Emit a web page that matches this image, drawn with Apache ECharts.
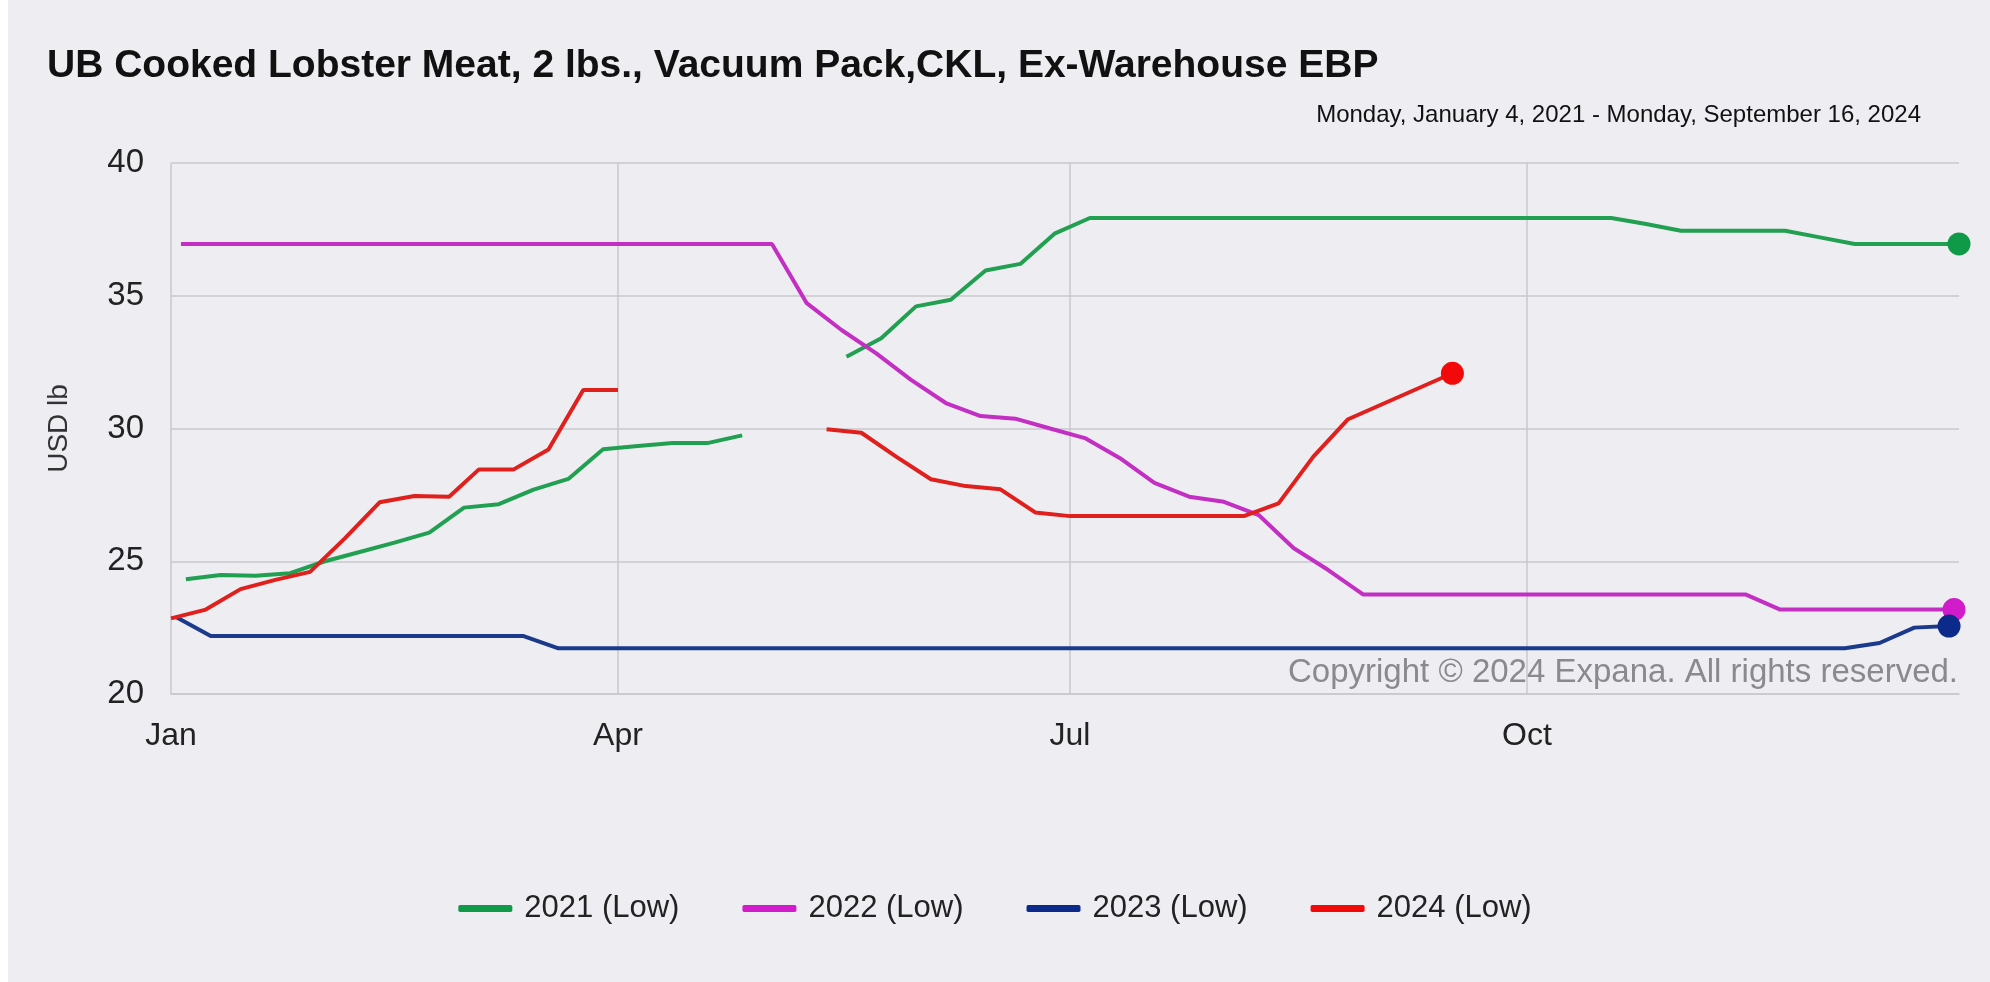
<!DOCTYPE html>
<html>
<head>
<meta charset="utf-8">
<title>UB Cooked Lobster Meat</title>
<script src="https://cdn.jsdelivr.net/npm/echarts@6/dist/echarts.min.js"></script>
<style>
  html, body { margin: 0; padding: 0; }
  body { background: linear-gradient(to right, #ffffff 0 8px, #eeeef2 8px); }
  #chart { width: 1990px; height: 982px; }
</style>
</head>
<body>
<div id="chart"></div>
<script>
// weekly lows, plotted on a shared Jan-Dec axis (month-day)
const dates2021 = ["01-04", "01-11", "01-18", "01-25", "02-01", "02-08", "02-15", "02-22", "03-01", "03-08", "03-15", "03-22", "03-29", "04-05", "04-12", "04-19", "04-26", "05-03", "05-17", "05-24", "05-31", "06-07", "06-14", "06-21", "06-28", "07-05", "10-18", "10-25", "11-01", "11-22", "11-29", "12-06", "12-27"];
const values2021 = [24.32, 24.48, 24.45, 24.55, 25.0, 25.35, 25.7, 26.08, 27.02, 27.15, 27.7, 28.1, 29.22, 29.34, 29.45, 29.45, 29.74, "-", 32.7, 33.4, 34.6, 34.85, 35.95, 36.2, 37.35, 37.93, 37.93, 37.7, 37.45, 37.45, 37.2, 36.95, 36.95];

const dates2022 = ["01-03", "05-02", "05-09", "05-16", "05-23", "05-30", "06-06", "06-13", "06-20", "06-27", "07-04", "07-11", "07-18", "07-25", "08-01", "08-08", "08-15", "08-22", "08-29", "11-14", "11-21", "12-26"];
const values2022 = [36.95, 36.95, 34.72, 33.71, 32.83, 31.83, 30.96, 30.47, 30.37, 30.0, 29.64, 28.89, 27.95, 27.43, 27.24, 26.74, 25.5, 24.67, 23.75, 23.75, 23.18, 23.18];

const dates2023 = ["01-02", "01-09", "03-13", "03-20", "12-04", "12-11", "12-18", "12-25"];
const values2023 = [22.9, 22.18, 22.18, 21.72, 21.72, 21.92, 22.5, 22.56];

const dates2024 = ["01-01", "01-08", "01-15", "01-22", "01-29", "02-05", "02-12", "02-19", "02-26", "03-04", "03-11", "03-18", "03-25", "04-01", "04-08", "05-13", "05-20", "05-27", "06-03", "06-10", "06-17", "06-24", "07-01", "08-05", "08-12", "08-19", "08-26", "09-16"];
const values2024 = [22.85, 23.18, 23.95, 24.3, 24.6, 25.86, 27.22, 27.46, 27.43, 28.46, 28.46, 29.21, 31.45, 31.45, "-", 29.97, 29.84, 28.94, 28.09, 27.83, 27.71, 26.84, 26.7, 26.7, 27.18, 28.94, 30.35, 32.08];

const seriesNames = ["2021 (Low)", "2022 (Low)", "2023 (Low)", "2024 (Low)"];
const lineColors = ["#22a052", "#c22fc2", "#1b3a8c", "#e0201c"];
const dotColors = ["#0e9a46", "#d21bca", "#0c2a8a", "#f20a0a"];

const quarterStarts = ["01-01", "04-01", "07-01", "10-01"];
const quarterLabels = ["Jan", "Apr", "Jul", "Oct"];

const titleText = "UB Cooked Lobster Meat, 2 lbs., Vacuum Pack,CKL, Ex-Warehouse EBP";
const subText = "Monday, January 4, 2021 - Monday, September 16, 2024";
const copyText = "Copyright \u00a9 2024 Expana. All rights reserved.";

// day categories Jan 1 .. Dec 27
const days = [];
for (let d = 0; d <= 360; d++) {
  const dt = new Date(Date.UTC(2021, 0, 1 + d));
  const mm = String(dt.getUTCMonth() + 1).padStart(2, "0");
  const dd = String(dt.getUTCDate()).padStart(2, "0");
  days.push(mm + "-" + dd);
}

const font = "'Liberation Sans', Arial, sans-serif";
const isQuarter = (index, value) => quarterStarts.indexOf(value) >= 0;

const makeSeries = (name, dates, values, i) => {
  const last = dates.length - 1;
  return {
    name,
    type: "line",
    data: dates.map((d, k) => [d, values[k]]),
    showSymbol: true,
    showAllSymbol: true,
    symbol: "circle",
    symbolSize: function (value, params) {
      return params.dataIndex === last ? 23 : 0;
    },
    lineStyle: { color: lineColors[i], width: 4 },
    itemStyle: { color: dotColors[i] },
    color: lineColors[i],
    z: 2 + i,
    silent: true,
  };
};

const chart = echarts.init(document.querySelector("#chart"));
chart.setOption({
  animation: false,
  textStyle: { fontFamily: font },
  title: [
    {
      text: titleText,
      left: 42,
      top: 42,
      textStyle: { fontFamily: font, fontSize: 39, fontWeight: "bold", color: "#111" },
    },
    {
      text: subText,
      right: 64,
      top: 98,
      textStyle: { fontFamily: font, fontSize: 24, fontWeight: "normal", color: "#111" },
    },
  ],
  grid: { left: 171, right: 31, top: 163, bottom: 288 },
  legend: {
    top: 888,
    left: "center",
    icon: "roundRect",
    itemWidth: 54,
    itemHeight: 7,
    itemGap: 63,
    data: seriesNames,
    textStyle: { fontFamily: font, fontSize: 31, color: "#222", padding: [0, 0, 0, 7] },
  },
  xAxis: {
    type: "category",
    data: days,
    boundaryGap: false,
    axisLine: { show: true, lineStyle: { color: "#c8c8cc", width: 1.5 } },
    axisTick: { show: false },
    axisLabel: {
      interval: isQuarter,
      margin: 26,
      fontSize: 32,
      color: "#222",
      fontFamily: font,
      formatter: function (value) {
        return quarterLabels[quarterStarts.indexOf(value)];
      },
    },
    splitLine: { show: true, interval: isQuarter, lineStyle: { color: "#c8c8cc", width: 1.5 } },
  },
  yAxis: {
    type: "value",
    min: 20,
    max: 40,
    interval: 5,
    name: "USD lb",
    nameLocation: "middle",
    nameGap: 98,
    nameTextStyle: { fontFamily: font, fontSize: 28, color: "#333" },
    axisLine: { show: false },
    axisTick: { show: false },
    axisLabel: { margin: 27, fontSize: 33, color: "#222", fontFamily: font },
    splitLine: { lineStyle: { color: "#c8c8cc", width: 1.5 } },
  },
  graphic: [
    {
      type: "text",
      right: 32,
      top: 656,
      z: 10,
      style: { text: copyText, fontFamily: font, fontSize: 33, fill: "#8a8a8e" },
    },
  ],
  series: [
    makeSeries(seriesNames[0], dates2021, values2021, 0),
    makeSeries(seriesNames[1], dates2022, values2022, 1),
    makeSeries(seriesNames[2], dates2023, values2023, 2),
    makeSeries(seriesNames[3], dates2024, values2024, 3),
  ],
});
</script>
</body>
</html>
